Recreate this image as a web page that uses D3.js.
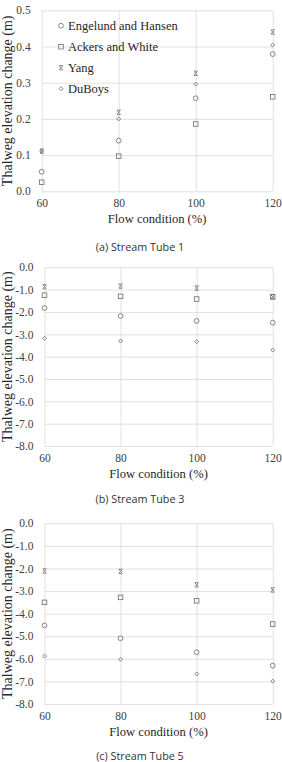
<!DOCTYPE html>
<html>
<head>
<meta charset="utf-8">
<script src="https://cdn.jsdelivr.net/npm/d3@7"></script>
<style>
  body { margin: 0; background: #fff; }
  svg { display: block; }
</style>
</head>
<body>
<div class="plot"></div>
<script>
// Data
const flow = [60, 80, 100, 120];
const seriesNames = ["Engelund and Hansen", "Ackers and White", "Yang", "DuBoys"];

// order: Engelund, Ackers, Yang, DuBoys
const tube1 = [
    [0.054, 0.140, 0.257, 0.379],
    [0.025, 0.097, 0.186, 0.261],
    [0.111, 0.218, 0.326, 0.440],
    [0.111, 0.200, 0.296, 0.404]
];
const tube3 = [
    [-1.82, -2.18, -2.40, -2.48],
    [-1.25, -1.30, -1.42, -1.32],
    [-0.87, -0.84, -0.93, -1.32],
    [-3.18, -3.30, -3.33, -3.70]
];
const tube5 = [
    [-4.52, -5.09, -5.71, -6.30],
    [-3.50, -3.28, -3.43, -4.46],
    [-2.11, -2.13, -2.72, -2.95],
    [-5.88, -6.02, -6.67, -6.99]
];

const yTicksPos = [0, 0.1, 0.2, 0.3, 0.4, 0.5];
const yTicksNeg = [0, -1, -2, -3, -4, -5, -6, -7, -8];
const captions = ["(a) Stream Tube 1", "(b) Stream Tube 3", "(c) Stream Tube 5"];

const W = 282, H = 762;
const serif = "'Liberation Serif', 'Times New Roman', serif";
const gridColor = "#d9d9d9";
const markColor = "#6b6b6b";

const svg = d3.select(".plot")
    .append("svg")
        .attr("width", W)
        .attr("height", H);

// panel frames (pixel boxes of the plot areas)
const panels = [
    {data: tube1, domain: [0, 0.5], ticks: yTicksPos, top: 10.3, bottom: 191.3, left: 41.7, right: 272.7, capY: 250.5, legend: true},
    {data: tube3, domain: [-8, 0], ticks: yTicksNeg, top: 267.3, bottom: 446, left: 44.5, right: 272.7, capY: 503, legend: false},
    {data: tube5, domain: [-8, 0], ticks: yTicksNeg, top: 523.3, bottom: 704, left: 44.5, right: 272.7, capY: 759.5, legend: false}
];

// marker drawing, one per series
const drawMarker = function(g, i) {
    g.attr("fill", "none").attr("stroke", markColor).attr("stroke-width", 0.8);
    if (i === 0) {
        g.append("circle").attr("r", 2.4);
    } else if (i === 1) {
        g.append("rect").attr("x", -2.3).attr("y", -2.3).attr("width", 4.6).attr("height", 4.6);
    } else if (i === 2) {
        g.append("path").attr("d", "M-1.8,-1.8L1.8,1.8M-1.8,1.8L1.8,-1.8M-1.8,-2.2H1.8M-1.8,2.2H1.8");
    } else {
        g.append("path").attr("d", "M0,-2L2,0L0,2L-2,0Z");
    }
};

panels.forEach(function(p, k) {
    const x = d3.scaleLinear().domain([60, 120]).range([p.left, p.right]);
    const y = d3.scaleLinear().domain(p.domain).range([p.bottom, p.top]);
    const g = svg.append("g");

    // horizontal gridlines
    g.append("g")
        .attr("transform", "translate(" + p.left + ",0)")
        .call(d3.axisLeft(y).tickValues(p.ticks).tickSize(-(p.right - p.left)).tickFormat(""))
        .call(s => s.select(".domain").remove())
        .selectAll("line").attr("stroke", gridColor).attr("stroke-width", 0.8);

    // vertical gridlines
    g.append("g")
        .attr("transform", "translate(0," + p.bottom + ")")
        .call(d3.axisBottom(x).tickValues(flow).tickSize(-(p.bottom - p.top)).tickFormat(""))
        .call(s => s.select(".domain").remove())
        .selectAll("line").attr("stroke", gridColor).attr("stroke-width", 0.8);

    // y tick labels
    g.append("g")
        .attr("transform", "translate(" + p.left + ",0)")
        .call(d3.axisLeft(y).tickValues(p.ticks).tickSize(0).tickPadding(11).tickFormat(d => d.toFixed(1)))
        .call(s => s.select(".domain").remove())
        .selectAll("text")
            .style("font-family", serif)
            .style("font-size", "11.5px")
            .attr("fill", "#404040");

    // x tick labels
    g.append("g")
        .attr("transform", "translate(0," + p.bottom + ")")
        .call(d3.axisBottom(x).tickValues(flow).tickSize(0).tickPadding(8).tickFormat(d => d))
        .call(s => s.select(".domain").remove())
        .selectAll("text")
            .style("font-family", serif)
            .style("font-size", "11.5px")
            .attr("fill", "#404040");

    // axis titles
    g.append("text")
        .attr("x", (p.left + p.right) / 2)
        .attr("y", p.bottom + 32)
        .attr("text-anchor", "middle")
        .style("font-family", serif)
        .style("font-size", "12.6px")
        .attr("fill", "#262626")
        .text("Flow condition (%)");
    g.append("text")
        .attr("transform", "translate(12," + ((p.top + p.bottom) / 2) + ") rotate(-90)")
        .attr("text-anchor", "middle")
        .style("font-family", serif)
        .style("font-size", "14px")
        .attr("fill", "#262626")
        .text("Thalweg elevation change (m)");

    // caption
    svg.append("text")
        .attr("x", 140)
        .attr("y", p.capY)
        .attr("text-anchor", "middle")
        .style("font-family", "'Open Sans', sans-serif")
        .style("font-size", "10.8px")
        .attr("fill", "#333")
        .text(captions[k]);

    // points
    p.data.forEach(function(vals, i) {
        g.selectAll(".pt" + i)
            .data(vals)
            .enter()
            .append("g")
                .attr("class", "pt" + i)
                .attr("transform", (d, j) => "translate(" + x(flow[j]) + "," + y(d) + ")")
                .each(function() { drawMarker(d3.select(this), i); });
    });

    // legend
    if (p.legend) {
        const lg = g.append("g").attr("transform", "translate(61,25.7)");
        seriesNames.forEach(function(name, i) {
            const row = lg.append("g").attr("transform", "translate(0," + (i * 21) + ")");
            drawMarker(row.append("g"), i);
            row.append("text")
                .attr("x", 7)
                .attr("y", 4.3)
                .style("font-family", serif)
                .style("font-size", "12.5px")
                .attr("fill", "#262626")
                .text(name);
        });
    }
});
</script>
</body>
</html>
